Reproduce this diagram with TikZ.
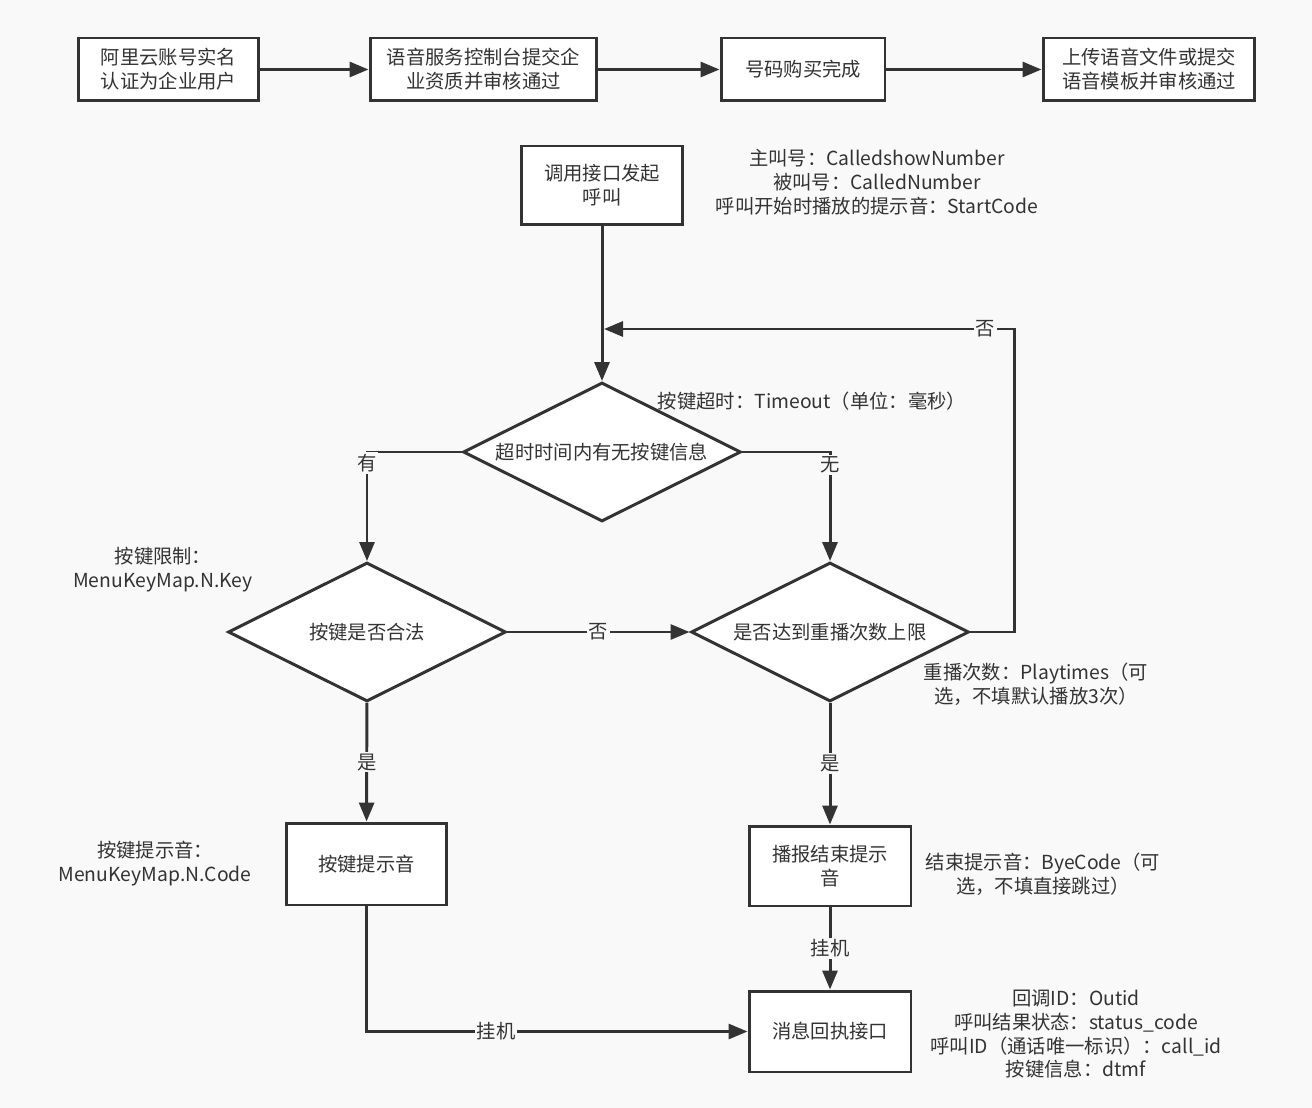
\documentclass[tikz,border=0pt]{standalone}
\usepackage{fontspec}
\setmainfont{Noto Sans CJK SC}
\usetikzlibrary{shapes.geometric,arrows.meta}
\definecolor{ink}{HTML}{333333}
\definecolor{paper}{HTML}{F9F9F9}
\tikzset{
every picture/.style={
line width=1.7pt
}}

\begin{document}
\begin{tikzpicture}[x=0.02cm, y=-0.02cm, font=\fontsize{11}{13.6}\selectfont, ink,
block/.style = {rectangle, draw=ink, fill=white, align=center, minimum height=1.26cm},
decision/.style = {diamond, draw=ink, fill=white, aspect=2, inner sep=0pt, minimum width=5.56cm, minimum height=2.78cm},
note/.style = {align=center, text=ink},
tag/.style = {fill=paper, inner sep=1pt},
flow/.style = {draw=ink, -{Triangle[length=0.38cm, width=0.3cm]}}]

\fill[paper] (0,0) rectangle (1312,1108);

\node[block, minimum width=3.62cm] (acct) at (168.5,69.5) {阿里云账号实名\\认证为企业用户};
\node[block, minimum width=4.54cm] (qual) at (483.5,69.5) {语音服务控制台提交企\\业资质并审核通过};
\node[block, minimum width=3.28cm] (buy) at (803,69.5) {号码购买完成};
\node[block, minimum width=4.24cm] (tpl) at (1149,69.5) {上传语音文件或提交\\语音模板并审核通过};

\node[block, minimum width=3.24cm, minimum height=1.58cm] (call) at (602,185.5) {调用接口发起\\呼叫};
\node[note] (callinfo) at (877,182) {主叫号：CalledshowNumber\\被叫号：CalledNumber\\呼叫开始时播放的提示音：StartCode};

\node[decision] (wait) at (602,452) {超时时间内有无按键信息};
\node[note] (waitinfo) at (812,401) {按键超时：Timeout（单位：毫秒）};
\node[decision] (valid) at (367,632) {按键是否合法};
\node[note] (validinfo) at (163,570) {按键限制：\\MenuKeyMap.N.Key};
\node[decision] (limit) at (830,632) {是否达到重播次数上限};
\node[note] (limitinfo) at (1036,684) {重播次数：Playtimes（可\\选，不填默认播放3次）};

\node[block, minimum width=3.22cm, minimum height=1.64cm] (keytone) at (366.5,864) {按键提示音};
\node[note] (keyinfo) at (155,864) {按键提示音：\\MenuKeyMap.N.Code};
\node[block, minimum width=3.24cm, minimum height=1.6cm] (bye) at (830,866) {播报结束提示\\音};
\node[note] (byeinfo) at (1043,874) {结束提示音：ByeCode（可\\选，不填直接跳过）};
\node[block, minimum width=3.24cm, minimum height=1.62cm] (receipt) at (830,1031.5) {消息回执接口};
\node[note] (receiptinfo) at (1076,1034) {回调ID：Outid\\呼叫结果状态：status\_code\\呼叫ID（通话唯一标识）：call\_id\\按键信息：dtmf};

\coordinate (back) at (1014,329);
\coordinate (join) at (604,329);

\draw[flow] (acct) -- (qual);
\draw[flow] (qual) -- (buy);
\draw[flow] (buy) -- (tpl);
\draw[flow] (call) -- (wait);
\draw[flow] (limit.east) -| (back) -- node[tag, pos=0.07]{否} (join);
\draw[flow] (wait.west) -| node[tag, pos=0.55]{有} (valid.north);
\draw[flow] (wait.east) -| node[tag, pos=0.56]{无} (limit.north);
\draw[flow] (valid) -- node[tag]{否} (limit);
\draw[flow] (valid) -- node[tag]{是} (keytone);
\draw[flow] (limit) -- node[tag]{是} (bye);
\draw[flow] (bye) -- node[tag]{挂机} (receipt);
\draw[flow] (keytone) |- node[tag, pos=0.67]{挂机} (receipt);
\end{tikzpicture}
\end{document}
